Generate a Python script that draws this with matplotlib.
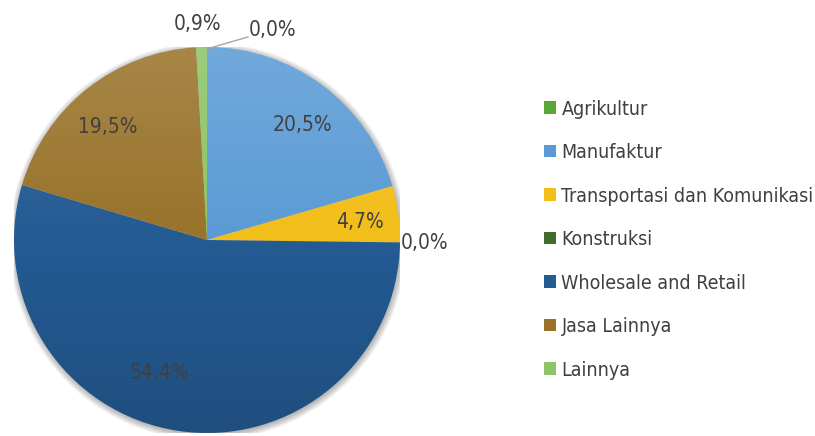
import numpy as np
import matplotlib.pyplot as plt
from matplotlib.patches import Circle

plt.rcParams['font.family'] = ['Liberation Sans Narrow', 'DejaVu Sans']
plt.rcParams['font.stretch'] = 'condensed'

# Sector shares (%)
sectors = ['Agrikultur', 'Manufaktur', 'Transportasi dan Komunikasi', 'Konstruksi',
           'Wholesale and Retail', 'Jasa Lainnya', 'Lainnya']
shares = [0.0, 20.5, 4.7, 0.0, 54.4, 19.5, 0.9]
colors = ['#5aa637', '#5b9bd5', '#f2be1a', '#3f6b2c', '#245b93', '#99732a', '#8cc467']

text_color = '#404040'

fig = plt.figure(figsize=(8.15, 4.36), dpi=100)
W, H = 815, 436
cx, cy, r = 207, 240, 193
ax = fig.add_axes([(cx - r) / W, (H - cy - r) / H, 2 * r / W, 2 * r / H])

# soft shadow under the pie
for k in range(6):
    ax.add_patch(Circle((0.004, -0.008), 1.0 + k * 0.006, color='black',
                        alpha=0.05, lw=0, zorder=0))

wedges, _ = ax.pie(shares, colors=colors, startangle=90, counterclock=False,
                   radius=1.0, wedgeprops=dict(linewidth=0))
ax.set_aspect('equal')
ax.axis('off')

# vertical light-to-dark sheen over the pie
grad = np.zeros((256, 1, 4))
t = np.linspace(0, 1, 256)[:, None]
grad[..., :3] = np.where(t[..., None] < 0.5, 1.0, 0.0)
grad[..., 3] = np.abs(t - 0.5) * 0.28
im = ax.imshow(grad, extent=[-1, 1, -1, 1], origin='upper', aspect='auto', zorder=3)
im.set_clip_path(Circle((0, 0), 1.0, transform=ax.transData))
ax.set_xlim(-1, 1)
ax.set_ylim(-1, 1)

def fmt(v):
    return f'{v:.1f}%'.replace('.', ',')

# label positions in pie units
label_pos = [(0.342, 1.088), (0.497, 0.596), (0.793, 0.093), (1.127, -0.016),
             (-0.244, -0.689), (-0.513, 0.585), (-0.047, 1.12)]
for v, (x, y) in zip(shares, label_pos):
    ax.text(x, y, fmt(v), ha='center', va='center', fontsize=15,
            color=text_color, zorder=5, clip_on=False)

# leader line for the top zero-share slice
ax.plot([0.0, 0.212], [0.99, 1.052], color='#a6a6a6', lw=1, zorder=4, clip_on=False)

leg = fig.legend(wedges, sectors, loc='upper left', bbox_to_anchor=(0.655, 0.794),
                 frameon=False, fontsize=14, handlelength=0.62, handleheight=0.62,
                 handletextpad=0.3, labelspacing=1.26, borderpad=0)
for txt in leg.get_texts():
    txt.set_color(text_color)

fig.savefig('out.png', dpi=100)
